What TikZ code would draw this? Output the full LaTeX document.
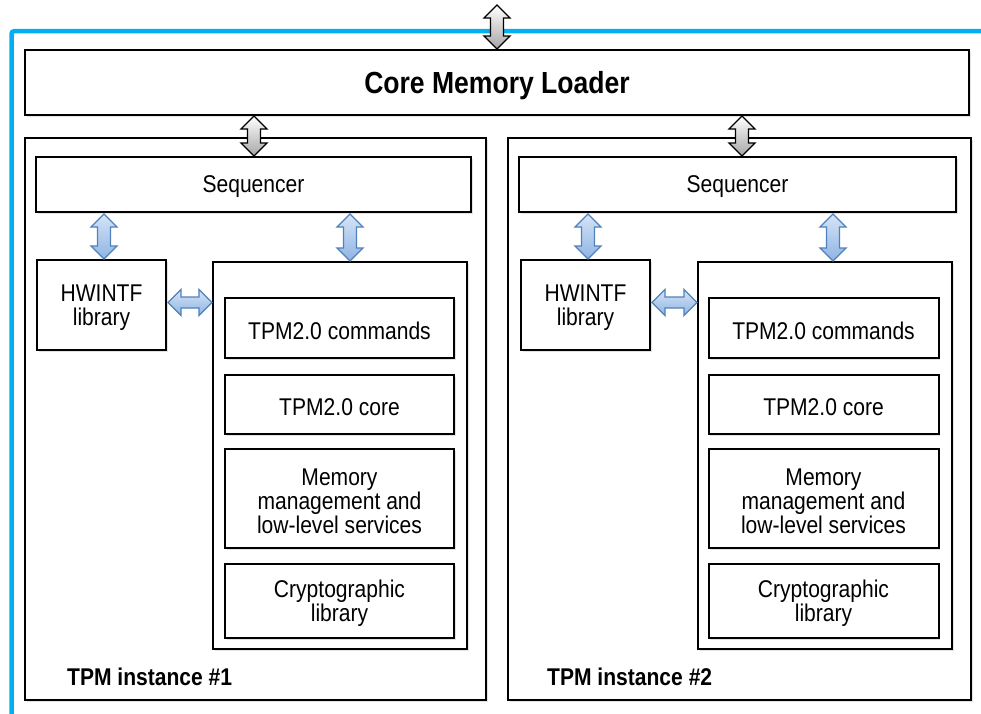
\documentclass[tikz,border=0pt]{standalone}
\usepackage{fontspec}
\setmainfont{Liberation Sans}[FakeStretch=0.87]
\usetikzlibrary{calc,shadows}
\definecolor{frameblue}{RGB}{0,176,240}
\definecolor{arrowline}{RGB}{79,129,189}
\definecolor{arrowtop}{RGB}{214,228,247}
\definecolor{arrowbot}{RGB}{142,180,227}
\newcommand\vblock[3]{%
  \path[#3] let \p1=#1, \p2=#2 in
   (\x1,\y1) -- (\x1+13pt,\y1-13pt) -- (\x1+6.5pt,\y1-13pt) -- (\x1+6.5pt,\y2+13pt)
   -- (\x1+13pt,\y2+13pt) -- (\x1,\y2) -- (\x1-13pt,\y2+13pt) -- (\x1-6.5pt,\y2+13pt)
   -- (\x1-6.5pt,\y1-13pt) -- (\x1-13pt,\y1-13pt) -- cycle;}
\newcommand\hblock[3]{%
  \path[#3] let \p1=#1, \p2=#2 in
   (\x1,\y1) -- (\x1+13pt,\y1+13pt) -- (\x1+13pt,\y1+5.5pt) -- (\x2-13pt,\y1+5.5pt)
   -- (\x2-13pt,\y1+13pt) -- (\x2,\y1) -- (\x2-13pt,\y1-13pt) -- (\x2-13pt,\y1-5.5pt)
   -- (\x1+13pt,\y1-5.5pt) -- (\x1+13pt,\y1-13pt) -- cycle;}
\tikzset{
  box/.style={draw=black, line width=2pt, fill=white, inner sep=0pt,
    drop shadow={opacity=0.22, shadow xshift=1.5pt, shadow yshift=-2pt}},
  txtlbl/.style={yshift=-2.5pt, align=center, inner sep=0pt, font=\fontsize{24.2}{24}\selectfont},
  txt/.style={label={[txtlbl]center:{#1}}},
  cmllbl/.style={yshift=-3pt, inner sep=0pt, font=\fontsize{30.5}{32}\selectfont\bfseries},
  grayarrow/.style={draw=black, line width=1.3pt, top color=white, bottom color=black!35},
  bluearrow/.style={draw=arrowline, line width=1.3pt, top color=arrowtop, bottom color=arrowbot},
  instlabel/.style={anchor=west, inner sep=0pt, font=\fontsize{24.2}{24}\selectfont\bfseries}
}
\begin{document}
\begin{tikzpicture}[x=1pt,y=-1pt]
\useasboundingbox (0,0) rectangle (981,713);
\fill[white] (0,0) rectangle (981,713);
% blue frame
\draw[frameblue, line width=4.5pt, rounded corners=3pt] (11.5,730) -- (11.5,31) -- (995,31);
% core memory loader
\node[box, minimum width=944pt, minimum height=65pt, label={[cmllbl]center:Core Memory Loader}] (cml) at (497,82.5) {};
% instances
\node[box, minimum width=461pt, minimum height=562pt] (instL) at (255.5,419) {};
\node[box, minimum width=463pt, minimum height=562pt] (instR) at (739.5,419) {};
% sequencers
\node[box, minimum width=435pt, minimum height=55pt, txt={Sequencer}] (seqL) at (253.5,184.5) {};
\node[box, minimum width=437pt, minimum height=55pt, txt={Sequencer}] (seqR) at (737.5,184.5) {};
% HWINTF
\node[box, minimum width=129pt, minimum height=90pt, txt={HWINTF\\library}] (hwL) at (101.5,305) {};
\node[box, minimum width=129pt, minimum height=90pt, txt={HWINTF\\library}] (hwR) at (585.5,305) {};
% inner stacks
\node[box, minimum width=254pt, minimum height=387pt] (inL) at (340,455.5) {};
\node[box, minimum width=254pt, minimum height=387pt] (inR) at (825,455.5) {};
\node[box, minimum width=229pt, minimum height=60pt, txt={TPM2.0 commands}] (cmdL) at (339.5,328) {};
\node[box, minimum width=229pt, minimum height=59pt, txt={TPM2.0 core}] (coreL) at (339.5,404.5) {};
\node[box, minimum width=229pt, minimum height=99pt, txt={Memory\\management and\\low-level services}] (memL) at (339.5,498.5) {};
\node[box, minimum width=229pt, minimum height=74pt, txt={Cryptographic\\library}] (cryL) at (339.5,601) {};
\node[box, minimum width=230pt, minimum height=60pt, txt={TPM2.0 commands}] (cmdR) at (823.5,328) {};
\node[box, minimum width=230pt, minimum height=59pt, txt={TPM2.0 core}] (coreR) at (823.5,404.5) {};
\node[box, minimum width=230pt, minimum height=99pt, txt={Memory\\management and\\low-level services}] (memR) at (823.5,498.5) {};
\node[box, minimum width=230pt, minimum height=74pt, txt={Cryptographic\\library}] (cryR) at (823.5,601) {};
% labels
\node[instlabel] (labL) at (67,676.5) {TPM instance \#1};
\node[instlabel] (labR) at (547,676.5) {TPM instance \#2};
% arrows
\coordinate (ext) at (497,5);
\coordinate (gx1) at (254,0);
\coordinate (gx2) at (742,0);
\coordinate (bx1) at (104,0);
\coordinate (bx2) at (350,0);
\coordinate (bx3) at (588,0);
\coordinate (bx4) at (833,0);
\coordinate (hy) at (0,302.5);
\vblock{(ext)}{(cml.north)}{grayarrow}
\vblock{(gx1 |- cml.south)}{(gx1 |- seqL.north)}{grayarrow}
\vblock{(gx2 |- cml.south)}{(gx2 |- seqR.north)}{grayarrow}
\vblock{($(bx1 |- seqL.south)+(0,1)$)}{(bx1 |- hwL.north)}{bluearrow}
\vblock{($(bx2 |- seqL.south)+(0,1)$)}{(bx2 |- inL.north)}{bluearrow}
\vblock{($(bx3 |- seqR.south)+(0,1)$)}{(bx3 |- hwR.north)}{bluearrow}
\vblock{($(bx4 |- seqR.south)+(0,1)$)}{(bx4 |- inR.north)}{bluearrow}
\hblock{($(hwL.east |- hy)+(1,0)$)}{(inL.west |- hy)}{bluearrow}
\hblock{($(hwR.east |- hy)+(1,0)$)}{(inR.west |- hy)}{bluearrow}
\end{tikzpicture}
\end{document}
